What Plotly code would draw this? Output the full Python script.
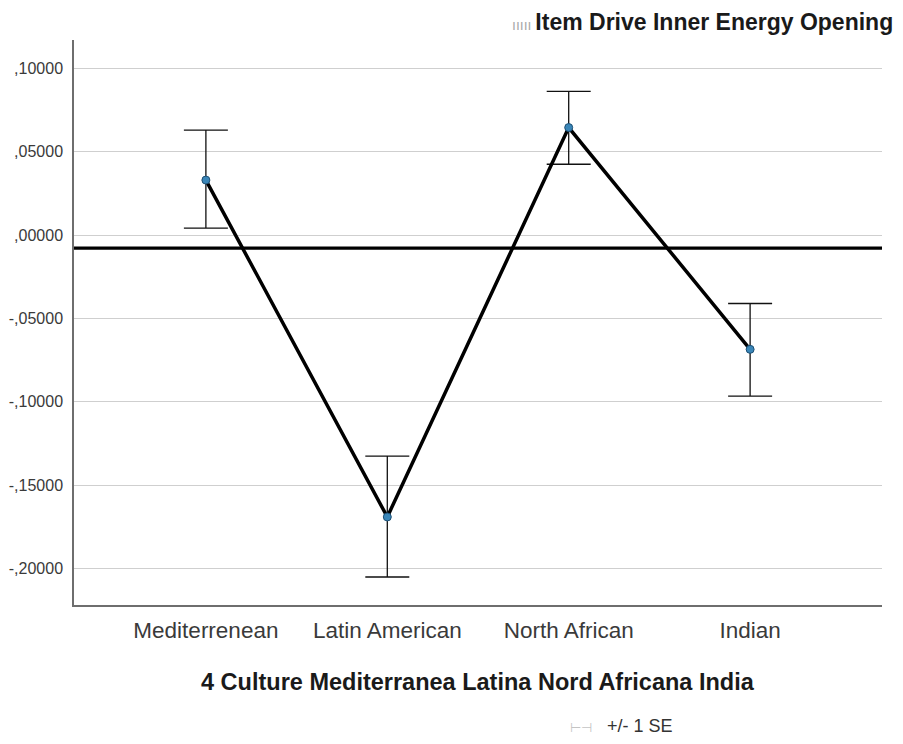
import plotly.graph_objects as go

categories = ["Mediterrenean", "Latin American", "North African", "Indian"]
means = [0.0330, -0.1690, 0.0645, -0.0685]
se_upper = [0.0630, -0.1325, 0.0862, -0.0410]
se_lower = [0.0042, -0.2050, 0.0425, -0.0965]
reference_value = -0.0078
y_tick_vals = [0.10, 0.05, 0.0, -0.05, -0.10, -0.15, -0.20]
y_tick_text = [",10000", ",05000", ",00000", "-,05000", "-,10000", "-,15000", "-,20000"]

x_pos = list(range(len(categories)))
err_plus = [u - m for u, m in zip(se_upper, means)]
err_minus = [m - l for m, l in zip(means, se_lower)]

fig = go.Figure()
fig.add_trace(go.Scatter(
    x=x_pos, y=means, mode="lines+markers",
    line=dict(color="black", width=3.5),
    marker=dict(size=8, color="#3a86b8", line=dict(color="#1d4f73", width=1)),
    error_y=dict(type="data", array=err_plus, arrayminus=err_minus,
                 color="#111111", thickness=1.3, width=22, visible=True),
    showlegend=False,
))

fig.add_shape(type="line", xref="paper", x0=0, x1=1, yref="y",
              y0=reference_value, y1=reference_value,
              line=dict(color="black", width=3.2))

fig.update_layout(
    width=895, height=736,
    margin=dict(l=66, r=21, t=32, b=139, autoexpand=False),
    paper_bgcolor="white", plot_bgcolor="white",
    font=dict(family="Liberation Sans, Arial, sans-serif", color="#333333"),
    xaxis=dict(
        range=[-0.727, 3.727], tickvals=x_pos, ticktext=categories,
        showgrid=False, zeroline=False, showline=True, linecolor="#6e6e6e", linewidth=1.5,
        ticks="", tickfont=dict(size=22.5, color="#3a3a3a"), ticklabelstandoff=4,
        automargin=False,
    ),
    yaxis=dict(
        range=[-0.2218, 0.117], tickvals=y_tick_vals, ticktext=y_tick_text,
        showgrid=True, gridcolor="#cfcfcf", gridwidth=1.2, zeroline=False,
        showline=True, linecolor="#6e6e6e", linewidth=1.5,
        ticks="", tickfont=dict(size=16, color="#3a3a3a"), ticklabelstandoff=6,
        automargin=False,
    ),
    annotations=[
        dict(text="<span style='color:#a8a8a8;font-size:14px'>ııııı </span><b>Item Drive Inner Energy Opening</b>",
             xref="paper", yref="paper",
             x=1, xshift=13, y=1.0, yshift=18, xanchor="right", yanchor="middle", showarrow=False,
             font=dict(size=23, color="#1a1a1a")),
        dict(text="<b>4 Culture Mediterranea Latina Nord Africana India</b>", xref="paper", yref="paper",
             x=0.5, y=0, yshift=-77, xanchor="center", yanchor="middle", showarrow=False,
             font=dict(size=23.5, color="#1a1a1a")),
        dict(text="<span style='color:#c4c4c4;font-size:13px'>⊢⊣</span>   +/- 1 SE", xref="paper", yref="paper",
             x=0.677, y=0, yshift=-121, xanchor="center", yanchor="middle", showarrow=False,
             font=dict(size=18, color="#333333")),
    ],
)

fig.write_html("out.html")
